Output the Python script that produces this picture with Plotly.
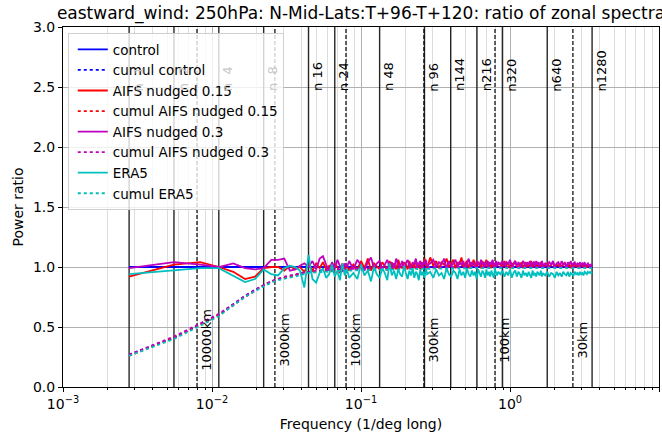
"""Ratio of zonal spectra, eastward wind 250hPa, N-Mid-Lats."""
import math
import plotly.graph_objects as go

FONT = "DejaVu Sans"
WIDTH = 662
HEIGHT = 434

# zonal wavenumbers the ratios are read at
WAVENUMBERS = [
    1, 2, 3, 4, 5, 6, 7, 8, 9, 10, 11, 12, 13, 14, 15, 16, 17, 18, 19, 20,
    21, 22, 23, 24, 25, 26, 27, 28, 29, 30,
    32, 34, 36, 38, 40, 42, 44, 46, 48, 50, 52, 54, 56, 58, 60, 62, 64, 66,
    68, 70, 72, 74, 76, 78, 80, 82, 84, 86, 88, 90, 92, 94, 96, 98, 100,
    105, 110, 115, 120, 125, 130, 135, 140, 145, 150, 155, 160, 165, 170,
    175, 180, 185, 190, 195, 200, 205, 210, 215, 220, 225, 230, 235, 240,
    245, 250, 255, 260, 265, 270, 275, 280, 285, 290, 295, 300,
    310, 320, 330, 340, 350, 360, 370, 380, 390, 400, 410, 420, 430, 440,
    450, 460, 470, 480, 490, 500, 510, 520, 530, 540, 550, 560, 570, 580,
    590, 600,
    620, 640, 660, 680, 700, 720, 740, 760, 780, 800, 820, 840, 860, 880,
    900, 920, 940, 960, 980, 1000, 1020, 1040, 1060, 1080, 1100, 1120, 1140,
    1160, 1180, 1200, 1220, 1240, 1260, 1280,
]

control_n = [1, 1280]
control = [1.0, 1.0]

nudged_015 = [
    0.92, 1.02, 1.04, 1.00, 0.96, 0.90, 0.92, 0.99, 1.00, 1.00,
    0.97, 1.01, 0.98, 1.00, 0.96, 1.02, 0.97, 1.03, 0.99, 1.04,
    0.98, 1.01, 0.96, 1.02, 1.00, 0.95, 1.03, 0.98, 1.01, 0.97,
    1.02, 0.98, 1.05, 0.99, 1.07, 0.97, 1.03, 1.00, 0.98, 1.04,
    1.01, 0.97, 1.05, 1.00, 1.03, 0.98, 1.06, 1.01, 0.99, 1.04,
    1.02, 0.98, 1.05, 1.00, 1.03, 0.99, 1.06, 1.01, 1.03, 0.98,
    1.04, 1.00, 1.07, 1.02, 0.99,
    1.08, 1.01, 1.05, 0.99, 1.04, 1.02, 1.07, 1.00, 1.03, 1.06,
    0.99, 1.04, 1.02, 1.08, 1.00, 1.03, 1.05, 0.99, 1.04, 1.01,
    1.06, 1.02, 1.00, 1.04, 1.03, 0.99, 1.05, 1.01, 1.03, 1.06,
    1.00, 1.04, 1.02, 0.99, 1.05, 1.01, 1.03, 1.00, 1.04, 1.02,
    1.03, 1.00, 1.05, 1.01, 1.04, 0.99, 1.03, 1.02, 1.05, 1.00,
    1.03, 1.01, 1.04, 0.99, 1.02, 1.04, 1.00, 1.03, 1.01, 1.05,
    1.00, 1.02, 1.04, 0.99, 1.03, 1.01, 1.02, 1.04, 1.00, 1.02,
    1.01, 1.03, 1.00, 1.02, 1.04, 0.99, 1.02, 1.01, 1.03, 1.00,
    1.02, 1.04, 1.00, 1.01, 1.03, 0.99, 1.02, 1.01, 1.03, 1.00,
    1.02, 1.01, 1.00, 1.03, 1.01, 1.00, 1.02, 1.01, 1.00, 1.02,
    1.01, 1.00, 1.01, 1.01,
]

nudged_03 = [
    0.99, 1.04, 1.02, 1.00, 1.03, 0.99, 0.98, 0.99, 1.06, 1.06,
    1.07, 0.97, 0.98, 1.01, 1.03, 1.00, 1.05, 0.98, 1.07, 1.09,
    1.02, 0.97, 1.04, 0.99, 1.06, 1.01, 0.96, 1.03, 1.00, 1.05,
    0.98, 1.06, 1.01, 0.97, 1.04, 1.08, 0.99, 1.03, 1.05, 0.98,
    1.02, 1.06, 1.00, 1.04, 0.99, 1.07, 1.02, 1.00, 1.05, 0.98,
    1.03, 1.06, 1.01, 0.99, 1.04, 1.02, 1.07, 1.00, 1.03, 1.05,
    0.99, 1.04, 1.02, 1.06, 1.01,
    1.03, 1.06, 1.00, 1.04, 1.02, 1.07, 0.99, 1.05, 1.01, 1.03,
    1.06, 1.00, 1.04, 1.02, 1.05, 0.99, 1.03, 1.07, 1.01, 1.04,
    1.02, 1.00, 1.05, 1.03, 1.01, 1.06, 1.02, 1.04, 1.00, 1.03,
    1.05, 1.01, 1.04, 1.02, 1.06, 1.00, 1.03, 1.05, 1.01, 1.04,
    1.02, 1.05, 1.01, 1.04, 1.02, 1.06, 1.00, 1.03, 1.05, 1.01,
    1.04, 1.02, 1.00, 1.05, 1.03, 1.01, 1.04, 1.02, 1.05, 1.00,
    1.03, 1.04, 1.01, 1.05, 1.02, 1.04, 1.00, 1.03, 1.05, 1.01,
    1.03, 1.01, 1.04, 1.02, 1.05, 1.00, 1.03, 1.04, 1.01, 1.05,
    1.02, 1.03, 1.00, 1.04, 1.02, 1.05, 1.01, 1.03, 1.04, 1.01,
    1.03, 1.02, 1.04, 1.01, 1.03, 1.02, 1.04, 1.01, 1.02, 1.03,
    1.01, 1.02, 1.02, 1.01,
]

era5 = [
    0.94, 0.97, 0.99, 0.99, 0.93, 0.875, 0.90, 0.98, 0.94, 0.93,
    0.99, 1.01, 1.00, 0.97, 0.83, 1.10, 0.90, 0.87, 0.95, 0.99,
    0.91, 0.94, 1.02, 0.92, 0.97, 0.89, 1.03, 0.93, 0.98, 0.91,
    0.95, 0.90, 1.02, 0.93, 0.97, 0.88, 1.00, 0.94, 0.91, 0.99,
    0.95, 0.89, 1.03, 0.93, 0.97, 0.90, 0.98, 0.94, 0.92, 1.01,
    0.95, 0.90, 0.97, 0.93, 0.99, 0.91, 0.96, 0.94, 0.89, 0.98,
    0.93, 0.96, 0.91, 0.99, 0.94,
    0.96, 0.91, 0.98, 0.93, 0.95, 0.90, 0.99, 0.94, 0.92, 0.97,
    0.95, 0.90, 0.98, 0.93, 0.96, 0.91, 0.99, 0.94, 0.92, 0.97,
    0.93, 0.96, 0.90, 0.98, 0.94, 0.92, 0.97, 0.95, 0.91, 0.98,
    0.93, 0.96, 0.92, 0.97, 0.94, 0.91, 0.98, 0.95, 0.93, 0.96,
    0.94, 0.97, 0.92, 0.96, 0.93, 0.98, 0.91, 0.95, 0.97, 0.92,
    0.96, 0.94, 0.91, 0.97, 0.93, 0.95, 0.92, 0.96, 0.94, 0.91,
    0.97, 0.93, 0.95, 0.92, 0.96, 0.94, 0.93, 0.97, 0.92, 0.95,
    0.93, 0.96, 0.92, 0.95, 0.94, 0.91, 0.96, 0.93, 0.95, 0.92,
    0.96, 0.94, 0.93, 0.96, 0.92, 0.95, 0.94, 0.93, 0.96, 0.94,
    0.95, 0.93, 0.96, 0.94, 0.95, 0.93, 0.96, 0.95, 0.94, 0.96,
    0.95, 0.96, 0.95, 0.96,
]

# cumulative ratios
CUMUL_N = [1, 2, 3, 4, 5, 6, 7, 8, 9, 10, 11, 12, 13, 14, 15, 16, 18, 20,
           24, 30, 40, 60, 100, 200, 400, 800, 1280]
cumul_control = [0.27, 0.41, 0.52, 0.60, 0.69, 0.76, 0.81, 0.85, 0.88, 0.90,
                 0.91, 0.92, 0.93, 0.95, 0.955, 0.96, 0.965, 0.97, 0.975,
                 0.98, 0.985, 0.99, 0.995, 1.0, 1.0, 1.0, 1.0]
cumul_nudged_015 = [0.26, 0.41, 0.52, 0.60, 0.68, 0.75, 0.80, 0.85, 0.88,
                    0.90, 0.91, 0.92, 0.93, 0.94, 0.95, 0.96, 0.965, 0.97,
                    0.975, 0.98, 0.985, 0.99, 0.995, 1.0, 1.0, 1.0, 1.0]
cumul_nudged_03 = [0.27, 0.42, 0.53, 0.61, 0.69, 0.76, 0.81, 0.85, 0.88,
                   0.90, 0.92, 0.93, 0.94, 0.95, 0.955, 0.96, 0.97, 0.975,
                   0.98, 0.985, 0.99, 0.995, 1.0, 1.0, 1.0, 1.0, 1.0]
cumul_era5 = [0.26, 0.40, 0.51, 0.59, 0.68, 0.75, 0.80, 0.84, 0.87, 0.89,
              0.90, 0.91, 0.92, 0.93, 0.94, 0.95, 0.955, 0.96, 0.965, 0.97,
              0.975, 0.98, 0.985, 0.99, 0.99, 0.99, 0.99]

# reference markers
LINE_N = [1, 2, 4, 8, 16, 24, 48, 96, 144, 216, 320, 640, 1280]
LINE_KM = [10000, 3000, 1000, 300, 100, 30]
KM_PER_DEG = 111.2 * math.cos(math.radians(44.5))

for series in (nudged_015, nudged_03, era5):
    assert len(series) == len(WAVENUMBERS)


def to_freq(n_list):
    return [n / 360.0 for n in n_list]


fig = go.Figure()

# vertical guide lines
xs, ys = [], []
for n in LINE_N:
    xs += [n / 360.0, n / 360.0, None]
    ys += [0, 3, None]
fig.add_trace(go.Scatter(x=xs, y=ys, mode="lines", showlegend=False, hoverinfo="skip",
                         line=dict(color="rgba(0,0,0,0.85)", width=1.4)))
xs, ys = [], []
for km in LINE_KM:
    xs += [KM_PER_DEG / km, KM_PER_DEG / km, None]
    ys += [0, 3, None]
fig.add_trace(go.Scatter(x=xs, y=ys, mode="lines", showlegend=False, hoverinfo="skip",
                         line=dict(color="black", width=1.2, dash="4px,2px")))

series_list = [
    ("control", control_n, control, "#0000ff", "solid"),
    ("cumul control", CUMUL_N, cumul_control, "#0000ff", "dot"),
    ("AIFS nudged 0.15", WAVENUMBERS, nudged_015, "#ff0000", "solid"),
    ("cumul AIFS nudged 0.15", CUMUL_N, cumul_nudged_015, "#ff0000", "dot"),
    ("AIFS nudged 0.3", WAVENUMBERS, nudged_03, "#bf00bf", "solid"),
    ("cumul AIFS nudged 0.3", CUMUL_N, cumul_nudged_03, "#bf00bf", "dot"),
    ("ERA5", WAVENUMBERS, era5, "#00bfbf", "solid"),
    ("cumul ERA5", CUMUL_N, cumul_era5, "#00bfbf", "dot"),
]
for name, n_list, vals, color, dash in series_list:
    fig.add_trace(go.Scatter(x=to_freq(n_list), y=vals, mode="lines", name=name,
                             line=dict(color=color, width=1.8, dash=dash)))

annotations = []
for n in LINE_N:
    # labels sitting behind the translucent legend show up faint
    colour = "#c8c8c8" if n <= 8 else "black"
    annotations.append(dict(
        x=math.log10(n / 360.0), y=2.53, xref="x", yref="y",
        text=("n%3d" % n).replace(" ", "\u00a0"), showarrow=False, textangle=-90,
        xanchor="left", yanchor="bottom", yshift=-10,
        font=dict(family=FONT, size=13, color=colour)))
for km in LINE_KM:
    annotations.append(dict(
        x=math.log10(KM_PER_DEG / km), y=0.39, xref="x", yref="y",
        text="%dkm" % km, showarrow=False, textangle=-90,
        xanchor="left", yanchor="middle",
        font=dict(family=FONT, size=13, color="black")))

minor_vals = [k * 10.0 ** e for e in range(-3, 1) for k in range(2, 10)]

fig.update_layout(
    width=WIDTH,
    height=HEIGHT,
    margin=dict(l=63, r=3, t=27, b=47),
    paper_bgcolor="white",
    plot_bgcolor="white",
    font=dict(family=FONT, size=14, color="black"),
    title=dict(text="eastward_wind: 250hPa: N-Mid-Lats:T+96-T+120: ratio of zonal spectra",
               x=0.5, xref="paper", xanchor="center", y=0.970, yref="container",
               yanchor="middle", font=dict(size=17)),
    showlegend=True,
    legend=dict(x=0.008, y=0.983, xanchor="left", yanchor="top",
                bgcolor="rgba(255,255,255,0.8)", bordercolor="#d0d0d0", borderwidth=1,
                font=dict(size=13.5), itemwidth=30, tracegroupgap=0, indentation=4),
    annotations=annotations,
)
fig.update_xaxes(
    type="log", range=[-3, 1], automargin=False,
    tickvals=[1e-3, 1e-2, 1e-1, 1, 10],
    ticktext=["10<sup>\u22123</sup>", "10<sup>\u22122</sup>", "10<sup>\u22121</sup>",
              "10<sup>0</sup>", "10<sup>1</sup>"],
    ticks="outside", ticklen=4, tickcolor="black",
    showline=True, mirror=True, linecolor="black", linewidth=1,
    showgrid=True, gridcolor="#b0b0b0", gridwidth=0.8,
    minor=dict(tickvals=minor_vals, ticks="outside", ticklen=2, tickcolor="black",
               showgrid=True, gridcolor="#dcdcdc", gridwidth=0.8),
    zeroline=False,
    title=dict(text="Frequency (1/deg long)", standoff=8, font=dict(size=14)),
)
fig.update_yaxes(
    range=[0, 3], dtick=0.5, tickformat=".1f", automargin=False,
    ticks="outside", ticklen=4, tickcolor="black",
    showline=True, mirror=True, linecolor="black", linewidth=1,
    showgrid=True, gridcolor="#b0b0b0", gridwidth=0.8,
    zeroline=False,
    title=dict(text="Power ratio", standoff=6, font=dict(size=14)),
)

# page body margin would push the figure 8px off the corner
fig.write_html("out.html", config={"displayModeBar": False},
               post_script="document.body.style.margin='0';")
